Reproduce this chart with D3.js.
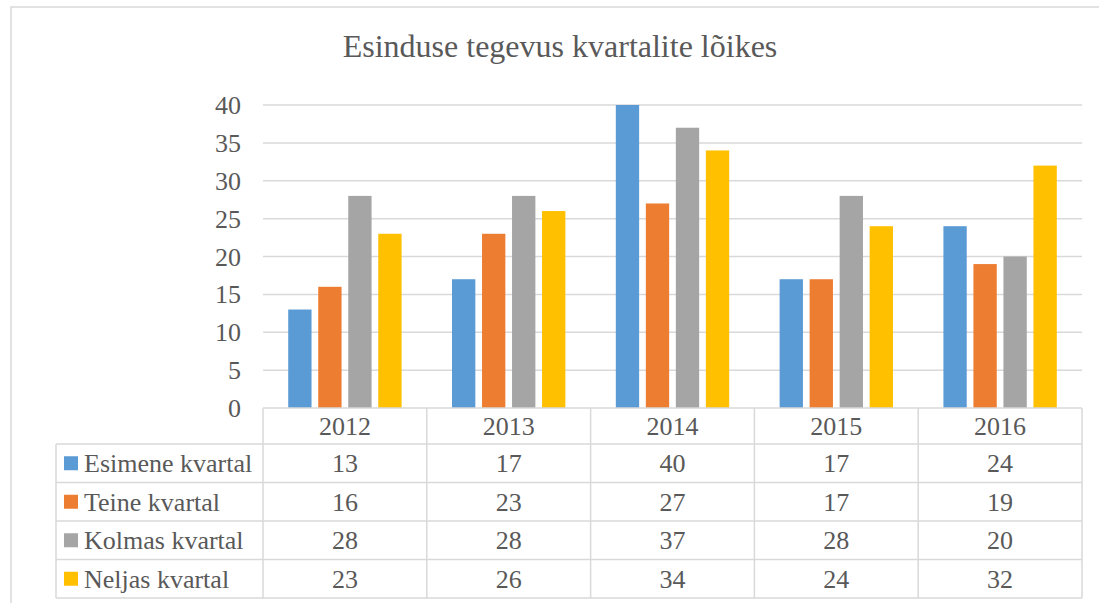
<!DOCTYPE html>
<html>
<head>
<meta charset="utf-8">
<script src="https://cdn.jsdelivr.net/npm/d3@7"></script>
<style>
  body { margin: 0; background: #fff; }
</style>
</head>
<body>
<svg width="1099" height="603"></svg>
<script>
const years = ['2012', '2013', '2014', '2015', '2016'];
const seriesNames = ['Esimene kvartal', 'Teine kvartal', 'Kolmas kvartal', 'Neljas kvartal'];
const esimene = [13, 17, 40, 17, 24];
const teine = [16, 23, 27, 17, 19];
const kolmas = [28, 28, 37, 28, 20];
const neljas = [23, 26, 34, 24, 32];
const yTicks = [0, 5, 10, 15, 20, 25, 30, 35, 40];
const colors = ['#5B9BD5', '#ED7D31', '#A5A5A5', '#FFC000'];

const series = [esimene, teine, kolmas, neljas];

const svg = d3.select('svg');
const grid = '#D9D9D9';
const serif = "'Liberation Serif'";
const ink = '#595959';

function label(sel, size) {
  return sel.style('font-family', serif).style('font-size', size + 'px').style('fill', ink);
}

// chart frame
svg.append('rect')
  .attr('x', 11).attr('y', 7)
  .attr('width', 1100).attr('height', 610)
  .attr('fill', 'none').attr('stroke', grid).attr('stroke-width', 1.5);

label(svg.append('text'), 32)
  .attr('x', 560).attr('y', 57)
  .attr('text-anchor', 'middle')
  .text('Esinduse tegevus kvartalite lõikes');

const x0 = d3.scaleBand().domain(years).range([263, 1082]).padding(0);
const x1 = d3.scaleBand().domain(seriesNames).range([0, x0.bandwidth()])
  .paddingInner(0.223).paddingOuter(0.84);
const y = d3.scaleLinear().domain([0, 40]).range([408, 105]);

// gridlines + labels
svg.append('g').selectAll('line')
  .data(yTicks.filter(d => d > 0))
  .join('line')
  .attr('x1', 263).attr('x2', 1082)
  .attr('y1', d => y(d)).attr('y2', d => y(d))
  .attr('stroke', grid).attr('stroke-width', 1.5);

label(svg.append('g').selectAll('text')
  .data(yTicks)
  .join('text'), 26)
  .attr('x', 241).attr('y', d => y(d))
  .attr('dy', '0.35em')
  .attr('text-anchor', 'end')
  .text(d => d);

// bars
series.forEach((vals, si) => {
  svg.append('g').selectAll('rect')
    .data(vals)
    .join('rect')
    .attr('x', (d, i) => x0(years[i]) + x1(seriesNames[si]))
    .attr('y', d => y(d))
    .attr('width', x1.bandwidth())
    .attr('height', d => y(0) - y(d))
    .attr('fill', colors[si]);
});

// data table
const tTop = 408, headH = 36, rowH = 38.5;
const legL = 56, tabL = 263, tabR = 1082;
const tBottom = tTop + headH + rowH * 4;
const tbl = svg.append('g').attr('stroke', grid).attr('stroke-width', 1.5);

// horizontal lines
tbl.append('line').attr('x1', tabL).attr('x2', tabR).attr('y1', tTop).attr('y2', tTop);
for (let r = 0; r <= 4; r++) {
  const yy = tTop + headH + r * rowH;
  tbl.append('line').attr('x1', legL).attr('x2', tabR).attr('y1', yy).attr('y2', yy);
}
// vertical lines
tbl.append('line').attr('x1', legL).attr('x2', legL).attr('y1', tTop + headH).attr('y2', tBottom);
years.forEach(yr => {
  tbl.append('line').attr('x1', x0(yr)).attr('x2', x0(yr)).attr('y1', tTop).attr('y2', tBottom);
});
tbl.append('line').attr('x1', tabR).attr('x2', tabR).attr('y1', tTop).attr('y2', tBottom);

// header
label(svg.append('g').selectAll('text')
  .data(years)
  .join('text'), 26)
  .attr('x', d => x0(d) + x0.bandwidth() / 2)
  .attr('y', tTop + headH / 2)
  .attr('dy', '0.35em')
  .attr('text-anchor', 'middle')
  .text(d => d);

// rows
series.forEach((vals, si) => {
  const cy = tTop + headH + si * rowH + rowH / 2;
  svg.append('rect')
    .attr('x', 64).attr('y', cy - 7)
    .attr('width', 14).attr('height', 14)
    .attr('fill', colors[si]);
  label(svg.append('text'), 26)
    .attr('x', 84).attr('y', cy).attr('dy', '0.35em')
    .text(seriesNames[si]);
  label(svg.append('g').selectAll('text')
    .data(vals)
    .join('text'), 26)
    .attr('x', (d, i) => x0(years[i]) + x0.bandwidth() / 2)
    .attr('y', cy).attr('dy', '0.35em')
    .attr('text-anchor', 'middle')
    .text(d => d);
});
</script>
</body>
</html>
